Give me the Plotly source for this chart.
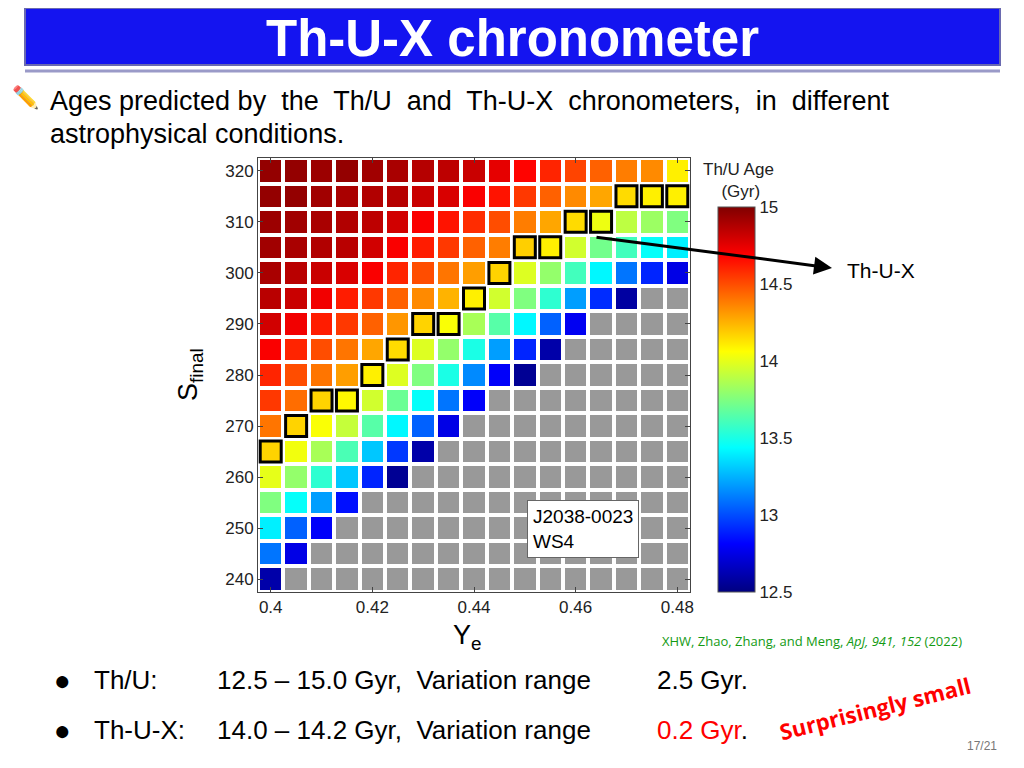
import numpy as np
import plotly.graph_objects as go

ye = [round(0.40 + 0.005 * i, 3) for i in range(17)]
s_final = [240 + 5 * j for j in range(17)]

# rows from S=320 down to 240; None = no solution (gray)
rows_top_down = [
 [14.95,14.95,14.93,14.95,14.92,14.9,14.87,14.85,14.82,14.75,14.68,14.6,14.52,14.45,14.38,14.35,14.1],
 [14.95,14.95,14.92,14.9,14.88,14.87,14.82,14.78,14.7,14.64,14.55,14.45,14.35,14.28,14.15,14.1,14.1],
 [14.93,14.92,14.9,14.88,14.85,14.8,14.7,14.64,14.58,14.5,14.38,14.28,14.15,14.02,13.9,13.82,13.75],
 [14.92,14.9,14.88,14.86,14.8,14.7,14.62,14.55,14.45,14.38,14.18,14.1,13.95,13.72,13.6,13.45,13.4],
 [14.9,14.86,14.82,14.78,14.7,14.6,14.5,14.4,14.3,14.17,13.98,13.8,13.6,13.42,13.1,12.9,12.75],
 [14.86,14.82,14.72,14.62,14.55,14.45,14.35,14.25,14.1,13.95,13.75,13.55,13.2,12.92,12.58,None,None],
 [14.8,14.72,14.62,14.55,14.45,14.32,14.17,14.05,13.85,13.65,13.42,13.05,12.78,None,None,None,None],
 [14.7,14.6,14.5,14.4,14.28,14.15,13.98,13.8,13.5,13.2,12.9,12.6,None,None,None,None,None],
 [14.6,14.5,14.4,14.3,14.1,13.98,13.75,13.5,13.15,12.8,12.55,None,None,None,None,None,None],
 [14.55,14.42,14.17,14.08,13.95,13.7,13.45,13.1,12.8,None,None,None,None,None,None,None,None],
 [14.4,14.17,14.05,13.92,13.65,13.42,13.05,12.75,None,None,None,None,None,None,None,None,None],
 [14.17,14.03,13.85,13.62,13.3,12.95,12.6,None,None,None,None,None,None,None,None,None,None],
 [14.0,13.8,13.55,13.3,12.9,12.55,None,None,None,None,None,None,None,None,None,None,None],
 [13.75,13.45,13.2,12.85,None,None,None,None,None,None,None,None,None,None,None,None,None],
 [13.4,13.05,12.8,None,None,None,None,None,None,None,None,None,None,None,None,None,None],
 [13.1,12.75,None,None,None,None,None,None,None,None,None,None,None,None,None,None,None],
 [12.6,None,None,None,None,None,None,None,None,None,None,None,None,None,None,None,None],
]
z = rows_top_down[::-1]
gray = [[1 if v is None else None for v in r] for r in z]

# Th-U-X consistent cells (Ye, S_final)
box_ye = [0.400,0.405,0.410,0.415,0.420,0.425,0.430,0.435,0.440,0.445,0.450,0.455,0.460,0.465,0.470,0.475,0.480]
box_s  = [265,270,275,275,280,285,290,290,295,300,305,305,310,310,315,315,315]

jet = [[0,'rgb(0,0,128)'],[0.125,'rgb(0,0,255)'],[0.375,'rgb(0,255,255)'],
       [0.625,'rgb(255,255,0)'],[0.875,'rgb(255,0,0)'],[1,'rgb(128,0,0)']]

fig = go.Figure()
fig.add_trace(go.Heatmap(x=ye, y=s_final, z=gray, colorscale=[[0,'#999999'],[1,'#999999']],
                         showscale=False, xgap=4, ygap=4, hoverinfo='skip'))
fig.add_trace(go.Heatmap(x=ye, y=s_final, z=z, colorscale=jet, zmin=12.5, zmax=15,
                         xgap=4, ygap=4,
                         colorbar=dict(x=1.065, xanchor='left', xpad=0, ypad=0, y=0, yanchor='bottom', len=0.887,
                                       thickness=37, outlinewidth=1, outlinecolor='#555',
                                       tickvals=[12.5,13,13.5,14,14.5,15], ticks='',
                                       tickfont=dict(size=17, family='Liberation Sans', color='#222'))))
fig.add_trace(go.Scatter(x=box_ye, y=box_s, mode='markers', hoverinfo='skip', showlegend=False,
                         marker=dict(symbol='square-open', size=21, color='black', line=dict(width=3, color='black'))))

fig.update_xaxes(range=[0.3975,0.4825], tickvals=[0.40,0.42,0.44,0.46,0.48], ticktext=['0.4','0.42','0.44','0.46','0.48'],
                 ticks='inside', ticklen=5, mirror='ticks', showline=True, linecolor='#444', showgrid=False, zeroline=False,
                 tickfont=dict(size=17, family='Liberation Sans', color='#222'))
fig.update_yaxes(range=[237.5,322.5], tickvals=[240,250,260,270,280,290,300,310,320],
                 ticks='inside', ticklen=5, mirror='ticks', showline=True, linecolor='#444', showgrid=False, zeroline=False,
                 tickfont=dict(size=17, family='Liberation Sans', color='#222'))

def px(x): return (x-258)/432
def py(y): return (592-y)/434

F = 'Liberation Sans'
ann = []
def A(x, y, t, size, color='black', xa='left', **kw):
    ann.append(dict(x=px(x), y=py(y), xref='paper', yref='paper', text=t, showarrow=False,
                    xanchor=xa, yanchor='middle', font=dict(size=size, color=color, family=kw.pop('family', F)), **kw))

A(512, 38, '<b>Th-U-X chronometer</b>', 51, 'white', 'center')
A(48, 101, 'Ages predicted by  the  Th/U  and  Th-U-X  chronometers,  in  different', 27)
A(48, 134, 'astrophysical conditions.', 27)
A(10, 97, '✏️', 22)
A(467, 637, 'Y<sub>e</sub>', 27, xa='center')
A(190, 375, 'S<sub>final</sub>', 27, xa='center', textangle=-90)
A(738, 180, 'Th/U Age<br> (Gyr)', 17, '#222', 'center')
A(527, 529, 'J2038-0023<br>WS4', 19, xa='left', align='left', bgcolor='white', bordercolor='#666', borderwidth=1, borderpad=5)
A(845, 270, 'Th-U-X', 21)
A(660, 641, 'XHW, Zhao, Zhang, and Meng, <i>ApJ, 941, 152</i> (2022)', 13, '#129a12', family='Open Sans')
A(52, 680, '●', 28)
A(92, 680, 'Th/U:', 26)
A(215, 680, '12.5 – 15.0 Gyr,  Variation range', 26)
A(655, 680, '2.5 Gyr.', 26)
A(52, 730, '●', 28)
A(92, 730, 'Th-U-X:', 26)
A(215, 730, '14.0 – 14.2 Gyr,  Variation range', 26)
A(655, 730, '<span style="color:red">0.2 Gyr</span>.', 26)
A(875, 708, '<b>Surprisingly small</b>', 22, 'red', 'center', textangle=-14, family='Open Sans')
A(982, 746, '17/21', 12, '#777', 'center')
ann.append(dict(x=px(832), y=py(268), ax=595-832, ay=237-268, xref='paper', yref='paper', axref='pixel', ayref='pixel',
                showarrow=True, arrowhead=2, arrowsize=1.2, arrowwidth=3, arrowcolor='black', text=''))

shapes = [dict(type='rect', xref='paper', yref='paper', x0=px(25), x1=px(1000), y0=py(65), y1=py(8),
               fillcolor='#1414f0', line=dict(color='#6a6ab0', width=2), layer='below'),
          dict(type='line', xref='paper', yref='paper', x0=px(25), x1=px(1000), y0=py(71), y1=py(71),
               line=dict(color='#9a9ac8', width=3))]

fig.update_layout(width=1024, height=768, margin=dict(l=250, r=342, t=150, b=184),
                  plot_bgcolor='white', paper_bgcolor='white', showlegend=False,
                  annotations=ann, shapes=shapes)
fig.write_html('out.html')
